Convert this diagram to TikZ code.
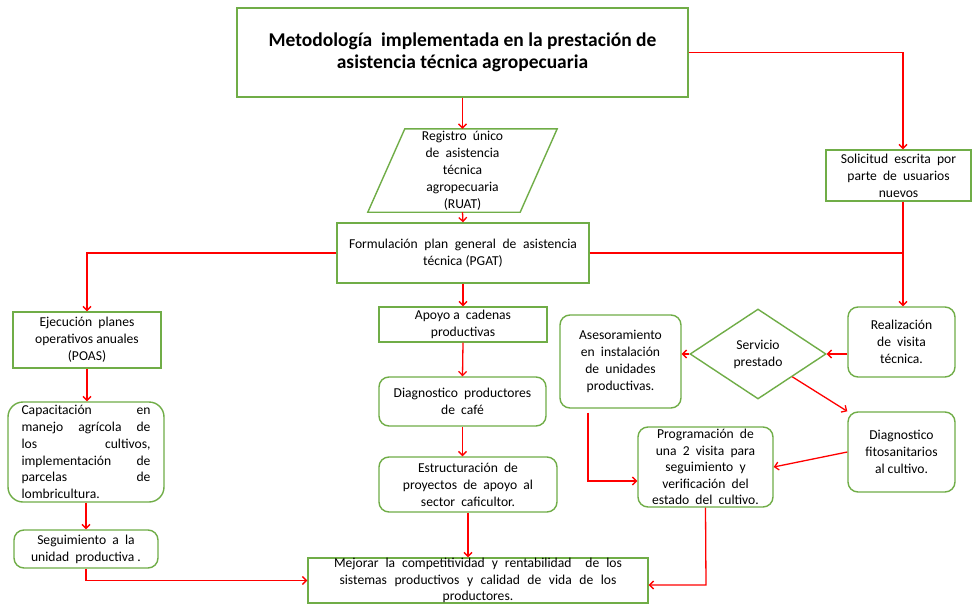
\documentclass[tikz,border=0pt]{standalone}
\usepackage{fontspec}
\setmainfont{Carlito}
\usetikzlibrary{arrows.meta,shapes.geometric,calc}
\definecolor{bgreen}{RGB}{112,173,71}
\definecolor{cred}{RGB}{255,0,0}
\newcommand\sprd[2]{\makebox[#1pt][s]{#2}}
\begin{document}
\begin{tikzpicture}[x=1pt,y=-1pt,
  txt/.style={font=\fontsize{13.6}{17}\selectfont, align=center, inner sep=0pt},
  sbox/.style={txt, draw=bgreen, line width=1.4pt, rectangle},
  rbox/.style={sbox, rounded corners=10pt},
  dbox/.style={txt, draw=bgreen, line width=1.4pt, diamond, aspect=1.51},
  conn/.style={draw=cred, line width=1.3pt, -{Straight Barb[length=4pt,width=8pt]}},
  plain/.style={draw=cred, line width=1.3pt}]
\fill[white] (0,0) rectangle (972,605);
\useasboundingbox (0,0) rectangle (972,605);

\node[sbox, minimum width=451pt, minimum height=89pt, font=\bfseries\fontsize{19.5}{22.5}\selectfont] (title) at (462.5,52.5)
  {Metodología\ \ implementada en la prestación de\\asistencia técnica agropecuaria};

\node[txt, minimum width=189pt, minimum height=83pt] (ruat) at (462.5,170.5)
  {Registro\ \ único\\de\ \ asistencia\\técnica\\agropecuaria\\(RUAT)};
\draw[bgreen, line width=1.4pt] ($(ruat.north west)+(37,0)$) -- (ruat.north east)
  -- ($(ruat.south east)+(-37,0)$) -- (ruat.south west) -- cycle;

\node[sbox, minimum width=145pt, minimum height=51pt] (solic) at (898.5,175.5)
  {Solicitud\ \ escrita\ \ por\\parte\ \ de\ \ usuarios\\nuevos};

\node[sbox, minimum width=252pt, minimum height=60pt] (pgat) at (463,253)
  {\sprd{228}{Formulación plan general de asistencia}\\técnica (PGAT)};

\node[sbox, minimum width=148pt, minimum height=56pt] (ejec) at (87,340)
  {Ejecución\ \ planes\\operativos anuales\\(POAS)};

\node[rbox, rounded corners=15pt, minimum width=156pt, minimum height=100pt, align=left, font=\fontsize{13.6}{16.8}\selectfont] (capac) at (86,452)
  {\sprd{129}{Capacitación en}\\\sprd{129}{manejo agrícola de}\\\sprd{129}{los cultivos,}\\\sprd{129}{implementación de}\\\sprd{129}{parcelas de}\\\makebox[129pt][l]{lombricultura.}};

\node[rbox, minimum width=144pt, minimum height=38pt] (seguim) at (86,549)
  {Seguimiento\ \ a\ \ la\\unidad\ \ productiva\ .};

\node[sbox, minimum width=168pt, minimum height=35pt] (apoyo) at (463,324.5)
  {Apoyo a\ \ cadenas\\productivas};

\node[rbox, minimum width=167pt, minimum height=49pt] (diagp) at (462.5,401.5)
  {Diagnostico\ \ productores\\de\ \ café};

\node[rbox, minimum width=178pt, minimum height=55pt] (estruc) at (468,484.5)
  {Estructuración\ \ de\\proyectos\ \ de\ \ apoyo\ \ al\\sector\ \ caficultor.};

\node[sbox, minimum width=340pt, minimum height=45pt, font=\fontsize{13.6}{16.5}\selectfont] (mejorar) at (478,580.5)
  {\sprd{288}{Mejorar la competitividad y rentabilidad \ de los}\\\sprd{277}{sistemas productivos y calidad de vida de los}\\productores.};

\node[rbox, minimum width=121pt, minimum height=93pt] (aseso) at (620.5,361.5)
  {Asesoramiento\\en\ \ instalación\\de\ \ unidades\\productivas.};

\node[dbox, minimum width=136pt, minimum height=90pt] (serv) at (758,354)
  {Servicio\\prestado};

\node[rbox, minimum width=107pt, minimum height=70pt] (realiz) at (901.5,342)
  {Realización\\de\ \ visita\\técnica.};

\node[rbox, minimum width=107pt, minimum height=80pt] (diagf) at (901.5,452)
  {Diagnostico\\fitosanitarios\\al cultivo.};

\node[rbox, minimum width=135pt, minimum height=80pt, font=\fontsize{13.6}{16.6}\selectfont] (prog) at (705.5,467)
  {Programación\ \ de\\una\ \ 2\ \ visita\ \ para\\seguimiento\ \ y\\verificación\ \ del\\estado\ \ del\ \ cultivo.};

% connectors
\draw[conn] (title.south) -- (ruat.north);
\coordinate (tr) at (903,52.5);
\draw[conn] (title.east) -- (tr) -- (solic.north -| tr);
\draw[conn] (ruat.south) -- (pgat.north);
\draw[conn] (pgat.west) -| (ejec.north);
\coordinate (jn) at (903,253);
\draw[plain] (pgat.east) -- (jn);
\draw[conn] (solic.south -| jn) -- (realiz.north -| jn);
\draw[conn] (pgat.south) -- (apoyo.north);
\draw[conn] (apoyo.south) -- (diagp.north);
\draw[conn] (diagp.south) -- (diagp.south |- estruc.north);
\draw[conn] (estruc.south) -- (estruc.south |- mejorar.north);
\draw[conn] (ejec.south) -- (capac.north -| ejec.south);
\draw[conn] (capac.south) -- (seguim.north);
\draw[conn] (seguim.south) |- (mejorar.west);
\draw[conn] (realiz.west |- serv.east) -- (serv.east);
\draw[conn] (serv.west) -- (serv.west -| aseso.east);
\draw[conn] (serv.south east) -- (diagf.north west);
\draw[conn] (diagf.west) -- (prog.east);
\coordinate (ab) at (588,481);
\draw[conn] ($(aseso.south -| ab)+(0,4)$) -- (ab) -- (prog.west |- ab);
\coordinate (pb) at (706,585);
\draw[conn] (prog.south) -- (pb) -- (mejorar.east |- pb);
\end{tikzpicture}
\end{document}
